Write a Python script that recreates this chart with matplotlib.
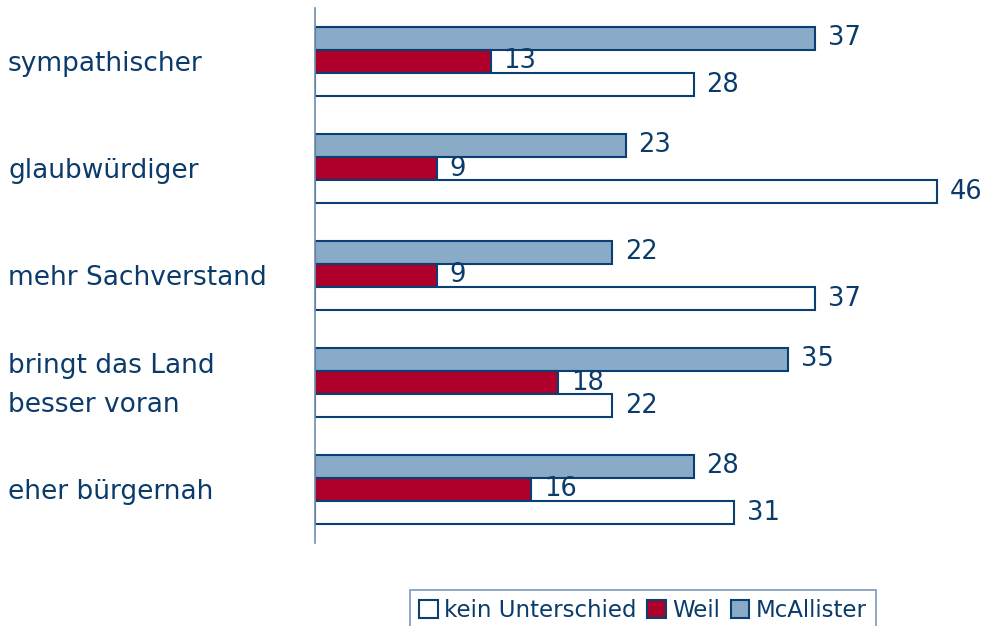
import matplotlib.pyplot as plt
import matplotlib.transforms as mtransforms
import numpy as np

categories = ["sympathischer", "glaubwürdiger", "mehr Sachverstand",
              "bringt das Land\nbesser voran", "eher bürgernah"]
mcallister = [37, 23, 22, 35, 28]
weil = [13, 9, 9, 18, 16]
kein_unterschied = [28, 46, 37, 22, 31]

TEXT = "#0b3b6b"
EDGE = "#0a3f73"

plt.rcParams['font.family'] = ['DejaVu Sans']

fig = plt.figure(figsize=(9.83, 6.26), dpi=100)
ax = fig.add_axes([315 / 983, 1 - 543 / 626, 1 - 315 / 983, 535 / 626])

y = np.arange(len(categories))
h = 0.215
series = [
    (mcallister, -h, "#8aabc8", "McAllister"),
    (weil, 0, "#ae002b", "Weil"),
    (kein_unterschied, h, "white", "kein Unterschied"),
]
handles = {}
for vals, off, col, name in series:
    bars = ax.barh(y + off, vals, height=h, color=col, edgecolor=EDGE,
                   linewidth=1.5, label=name)
    handles[name] = bars
    for b, v in zip(bars, vals):
        ax.annotate(str(v), (v, b.get_y() + b.get_height() / 2),
                    xytext=(9, 0), textcoords="offset points",
                    va="center", ha="left", fontsize=18.5, color=TEXT)

ax.set_ylim(4.5, -0.5)
ax.set_xlim(0, 668 / 13.52)
ax.set_yticks([])
ax.set_xticks([])
for s in ["top", "right", "bottom"]:
    ax.spines[s].set_visible(False)
ax.spines["left"].set_color("#6f8fb0")
ax.spines["left"].set_linewidth(1.2)

# category labels, left aligned at the figure edge
trans = mtransforms.blended_transform_factory(fig.transFigure, ax.transData)
for yi, cat in zip(y, categories):
    ax.text(8 / 983, yi + 0.025, cat, transform=trans, ha="left", va="center",
            fontsize=19, color=TEXT, linespacing=1.65, clip_on=False)

order = ["kein Unterschied", "Weil", "McAllister"]
leg = fig.legend([handles[n] for n in order], order,
                 loc="lower left", bbox_to_anchor=(410 / 983, -0.008),
                 ncol=3, frameon=True, fancybox=False, fontsize=16.5,
                 handlelength=0.8, handleheight=0.8, handletextpad=0.3,
                 columnspacing=0.45, borderpad=0.4, borderaxespad=0)
leg.get_frame().set_edgecolor("#5a7fa5")
leg.get_frame().set_linewidth(1.2)
for t in leg.get_texts():
    t.set_color(TEXT)

fig.savefig("out.png", dpi=100)
